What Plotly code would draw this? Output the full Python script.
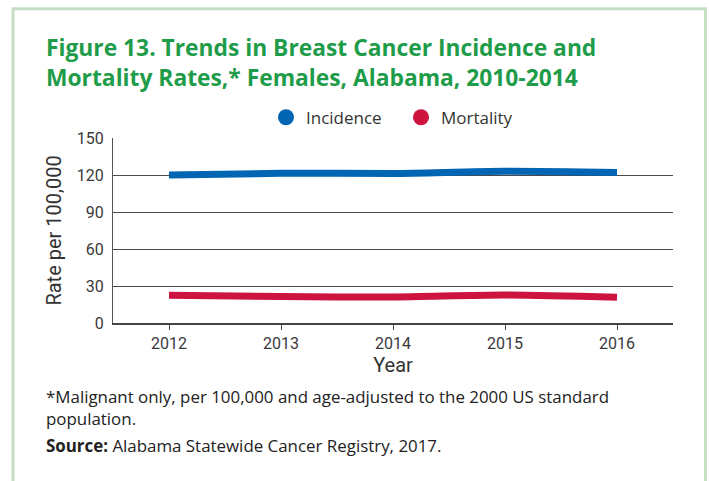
import plotly.graph_objects as go

years = [2012, 2013, 2014, 2015, 2016]
incidence = [120.1, 121.4, 121.3, 123.0, 122.0]
mortality = [22.4, 21.4, 21.1, 22.7, 20.8]
y_ticks = [0, 30, 60, 90, 120, 150]

BLUE = "#0065b3"
RED = "#cd1340"
GREEN = "#1f9c4a"
TEXT = "#333333"

W, H = 709, 481
L, R, T, B = 113, 673, 137.5, 323.5  # plot area in pixels


def px(x):
    return (x - L) / (R - L)


def py(y):
    return (B - y) / (B - T)


fig = go.Figure()

fig.add_trace(go.Scatter(x=years, y=incidence, mode="lines", name="Incidence",
                         line=dict(color=BLUE, width=7, shape="spline", smoothing=0.8),
                         showlegend=False))
fig.add_trace(go.Scatter(x=years, y=mortality, mode="lines", name="Mortality",
                         line=dict(color=RED, width=7, shape="spline", smoothing=0.8),
                         showlegend=False))
# legend entries drawn as round markers
for name, col in [("Incidence", BLUE), ("Mortality", RED)]:
    fig.add_trace(go.Scatter(x=[None], y=[None], mode="markers", name=name,
                             marker=dict(color=col, size=16)))

fig.update_layout(
    width=W, height=H,
    margin=dict(l=L, r=W - R, t=T, b=H - B, pad=0),
    paper_bgcolor="white", plot_bgcolor="white",
    font=dict(family="Liberation Sans Narrow, Roboto, sans-serif", color=TEXT, size=16),
    showlegend=True,
    legend=dict(orientation="h", x=px(266), xanchor="left", y=py(99), yanchor="top",
                font=dict(family="Open Sans, sans-serif", size=17, color=TEXT),
                itemwidth=30, traceorder="normal", bgcolor="rgba(0,0,0,0)",
                entrywidth=90),
    xaxis=dict(range=[2011.5, 2016.5], tickvals=years, ticktext=[str(y) for y in years],
               showgrid=False, zeroline=False, showline=True, linecolor="#444",
               linewidth=2, ticks="outside", ticklen=5, tickcolor="#444", tickwidth=1,
               tickfont=dict(size=16, color="#3a3a3a"),
               title=dict(text="Year", font=dict(size=20, color=TEXT), standoff=3)),
    yaxis=dict(range=[0, 150], tickvals=y_ticks, showgrid=True, gridcolor="#4a4a4a",
               gridwidth=1.3, zeroline=False, showline=True, linecolor="#555",
               linewidth=1.3, ticks="", ticklabelstandoff=5,
               tickfont=dict(size=16, color="#3a3a3a"),
               title=dict(text="Rate per 100,000", font=dict(size=20, color=TEXT),
                          standoff=9)),
)

# frame around the figure panel
fig.add_shape(type="rect", xref="paper", yref="paper",
              x0=px(13), x1=px(705.5), y0=py(495), y1=py(7.5),
              line=dict(color="#c6dfc4", width=3), layer="below")

fig.add_annotation(xref="paper", yref="paper", x=px(44), y=py(29), xanchor="left",
                   yanchor="top", align="left", showarrow=False,
                   text="<b>Figure 13. Trends in Breast Cancer Incidence and<br>"
                        "Mortality Rates,* Females, Alabama, 2010-2014</b>",
                   font=dict(family="Open Sans, sans-serif", size=22.8, color=GREEN))

fig.add_annotation(xref="paper", yref="paper", x=px(44), y=py(384), xanchor="left",
                   yanchor="top", align="left", showarrow=False,
                   text="*Malignant only, per 100,000 and age-adjusted to the 2000 US standard<br>"
                        "population.",
                   font=dict(family="Open Sans, sans-serif", size=16.9, color="#222"))
fig.add_annotation(xref="paper", yref="paper", x=px(44), y=py(433), xanchor="left",
                   yanchor="top", align="left", showarrow=False,
                   text="<b>Source:</b> Alabama Statewide Cancer Registry, 2017.",
                   font=dict(family="Open Sans, sans-serif", size=16.9, color="#222"))

fig.write_html("out.html")
